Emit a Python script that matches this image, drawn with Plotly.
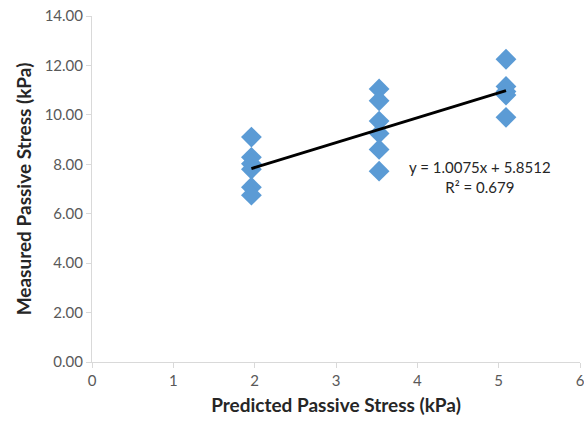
import plotly.graph_objects as go

x_values = [1.96]*6 + [3.53]*6 + [5.09]*5
y_values = [9.10, 8.28, 8.02, 7.80, 7.07, 6.75,
            11.05, 10.57, 9.75, 9.25, 8.60, 7.72,
            12.25, 11.15, 10.95, 10.80, 9.90]
slope = 1.0075
intercept = 5.8512
r2 = 0.679
x_ticks = [0, 1, 2, 3, 4, 5, 6]
y_ticks = [0, 2, 4, 6, 8, 10, 12, 14]

fig = go.Figure()
fig.add_trace(go.Scatter(x=x_values, y=y_values, mode="markers",
                         marker=dict(symbol="diamond", size=16, color="#5B9BD5"),
                         showlegend=False, cliponaxis=False))
xs = [min(x_values), max(x_values)]
fig.add_trace(go.Scatter(x=xs, y=[slope*v + intercept for v in xs], mode="lines",
                         line=dict(color="black", width=3), showlegend=False))

fig.add_annotation(x=4.77, y=7.5, xref="x", yref="y",
                   text=f"y = {slope}x + {intercept}<br>R² = {r2}",
                   showarrow=False, align="center",
                   font=dict(family="Lato, Open Sans, Arial", size=15, color="#262626"))

axis_font = dict(family="Lato, Open Sans, Arial", size=15, color="#595959")
title_font = dict(family="Lato, Open Sans, Arial", size=19, color="#262626")
fig.update_layout(
    width=584, height=425,
    margin=dict(l=92, r=4, t=16, b=63),
    paper_bgcolor="white", plot_bgcolor="white",
    xaxis=dict(range=[0, 6], tickvals=x_ticks, showgrid=False, zeroline=False,
               showline=True, linecolor="#d9d9d9", linewidth=1,
               ticks="outside", ticklen=5, tickcolor="#d9d9d9",
               tickfont=axis_font, ticklabeloverflow="allow", automargin=False,
               title=dict(text="<b>Predicted Passive Stress (kPa)</b>", font=title_font, standoff=10)),
    yaxis=dict(range=[0, 14], tickvals=y_ticks, tickformat=".2f", showgrid=False, zeroline=False,
               showline=True, linecolor="#d9d9d9", linewidth=1,
               ticks="outside", ticklen=5, tickcolor="#d9d9d9",
               tickfont=axis_font, ticklabeloverflow="allow", automargin=False,
               title=dict(text="<b>Measured Passive Stress (kPa)</b>", font=title_font, standoff=8)),
)
fig.write_html("out.html", config={"displayModeBar": False},
               post_script="document.body.style.margin='0';document.body.style.overflow='hidden';")
